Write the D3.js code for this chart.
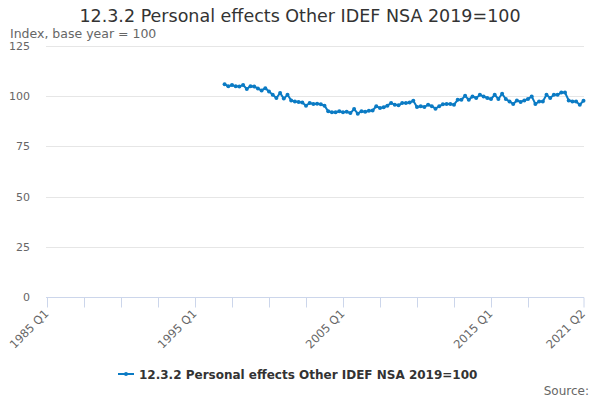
<!DOCTYPE html>
<html>
<head>
    <title>12.3.2 Personal effects Other IDEF NSA 2019=100</title>
    <style>
        body, html {
            margin: 0;
            padding: 0;
            width: 100%;
            height: 100%;
            overflow: hidden;
            background: #fff;
        }
        svg text {
            font-family: "DejaVu Sans", sans-serif;
        }
    </style>
    <script src="https://d3js.org/d3.v7.min.js"></script>
</head>
<body>

<svg id="chart" width="600" height="400"></svg>

<script>
// quarters on the axis: 1985 Q1 .. 2021 Q2
const quarters = [];
for (let y = 1985; y <= 2021; y++) {
    for (let q = 1; q <= 4; q++) {
        if (y === 2021 && q > 2) break;
        quarters.push(y + ' Q' + q);
    }
}

// series starts in 1997 Q1
const seriesStart = '1997 Q1';
const values = [
    106.0, 104.9, 105.6, 104.9, 104.8, 105.6, 103.6, 105.0, 104.8, 103.8,
    102.9, 104.0, 102.4, 100.7, 99.1, 101.6, 98.8, 100.7, 97.9, 97.4,
    97.1, 96.9, 95.3, 96.6, 96.1, 96.2, 96.0, 95.3, 92.5, 92.0,
    92.0, 92.5, 92.0, 92.2, 91.6, 93.6, 91.3, 92.5, 92.2, 92.7,
    92.9, 95.0, 94.1, 94.5, 95.3, 96.6, 95.8, 95.5, 96.6, 96.6,
    96.9, 97.7, 94.6, 95.0, 94.6, 95.8, 95.0, 93.8, 95.0, 96.0,
    96.1, 96.1, 95.8, 98.2, 98.2, 100.2, 98.2, 99.9, 99.1, 100.7,
    99.9, 99.1, 98.6, 100.7, 98.6, 101.2, 98.6, 97.4, 96.1, 97.9,
    97.1, 97.9, 98.6, 99.9, 96.1, 97.4, 97.4, 100.7, 99.1, 100.7,
    100.7, 101.8, 101.8, 97.9, 97.4, 97.4, 95.8, 97.7
];

const yTicks = [0, 25, 50, 75, 100, 125];
const labelledQuarters = ['1985 Q1', '1995 Q1', '2005 Q1', '2015 Q1', '2021 Q2'];

const title = '12.3.2 Personal effects Other IDEF NSA 2019=100';
const seriesName = '12.3.2 Personal effects Other IDEF NSA 2019=100';

const startIdx = quarters.indexOf(seriesStart);
const data = values.map((v, i) => ({ q: quarters[startIdx + i], v: v }));

const svg = d3.select('#chart');
const lineColor = '#0b7bc4';

const x = d3.scalePoint()
    .domain(quarters)
    .range([47, 583.5]);

const y = d3.scaleLinear()
    .domain([0, 125])
    .range([297, 46]);

// title + subtitle
svg.append('text')
    .attr('x', 300)
    .attr('y', 22)
    .attr('text-anchor', 'middle')
    .style('font-size', '17.5px')
    .style('fill', '#333')
    .text(title);

svg.append('text')
    .attr('x', 10)
    .attr('y', 38)
    .style('font-size', '12.5px')
    .style('fill', '#666')
    .text('Index, base year = 100');

// gridlines
svg.append('g')
    .selectAll('line')
    .data(yTicks)
    .enter().append('line')
    .attr('x1', 46)
    .attr('x2', 584)
    .attr('y1', d => Math.round(y(d)) + 0.5)
    .attr('y2', d => Math.round(y(d)) + 0.5)
    .attr('stroke', '#e6e6e6')
    .attr('stroke-width', 1);

// y labels
svg.append('g')
    .selectAll('text')
    .data(yTicks)
    .enter().append('text')
    .attr('x', 30)
    .attr('y', d => y(d) + 4)
    .attr('text-anchor', 'end')
    .style('font-size', '11px')
    .style('fill', '#666')
    .text(d => d);

// x axis: tick every 10 quarters, plus the last one
const tickQuarters = quarters.filter((q, i) => i % 10 === 0 && i <= 130);
tickQuarters.push(quarters[quarters.length - 1]);

const xAxis = d3.axisBottom(x)
    .tickValues(tickQuarters)
    .tickSize(10)
    .tickSizeOuter(0)
    .tickFormat(d => labelledQuarters.includes(d) ? d : '');

const gx = svg.append('g')
    .attr('transform', 'translate(0,' + (Math.round(y(0)) + 0.5) + ')')
    .call(xAxis);

gx.select('.domain')
    .attr('stroke', '#ccd6eb')
    .attr('d', 'M46,0H584');
gx.selectAll('.tick line')
    .attr('stroke', '#ccd6eb');
gx.selectAll('.tick text')
    .attr('text-anchor', 'end')
    .attr('transform', 'translate(-1,14) rotate(-45)')
    .attr('dy', '0.35em')
    .attr('y', 0)
    .attr('x', 0)
    .style('font-size', '11.5px')
    .style('fill', '#666')
    .style('font-family', '"DejaVu Sans", sans-serif');

// series line
const line = d3.line()
    .x(d => x(d.q))
    .y(d => y(d.v));

svg.append('path')
    .datum(data)
    .attr('fill', 'none')
    .attr('stroke', lineColor)
    .attr('stroke-width', 2)
    .attr('d', line);

svg.append('g')
    .selectAll('circle')
    .data(data)
    .enter().append('circle')
    .attr('cx', d => x(d.q))
    .attr('cy', d => y(d.v))
    .attr('r', 2)
    .attr('fill', lineColor);

// legend
const legend = svg.append('g')
    .attr('transform', 'translate(118,374)');
legend.append('line')
    .attr('x1', 0)
    .attr('x2', 16)
    .attr('y1', 0)
    .attr('y2', 0)
    .attr('stroke', lineColor)
    .attr('stroke-width', 2);
legend.append('circle')
    .attr('cx', 8)
    .attr('cy', 0)
    .attr('r', 2)
    .attr('fill', lineColor);
legend.append('text')
    .attr('x', 21)
    .attr('y', 4.5)
    .style('font-size', '12px')
    .style('font-weight', 'bold')
    .style('fill', '#333')
    .text(seriesName);

// source
svg.append('text')
    .attr('x', 589)
    .attr('y', 395)
    .attr('text-anchor', 'end')
    .style('font-size', '12px')
    .style('fill', '#666')
    .text('Source:');
</script>

</body>
</html>
